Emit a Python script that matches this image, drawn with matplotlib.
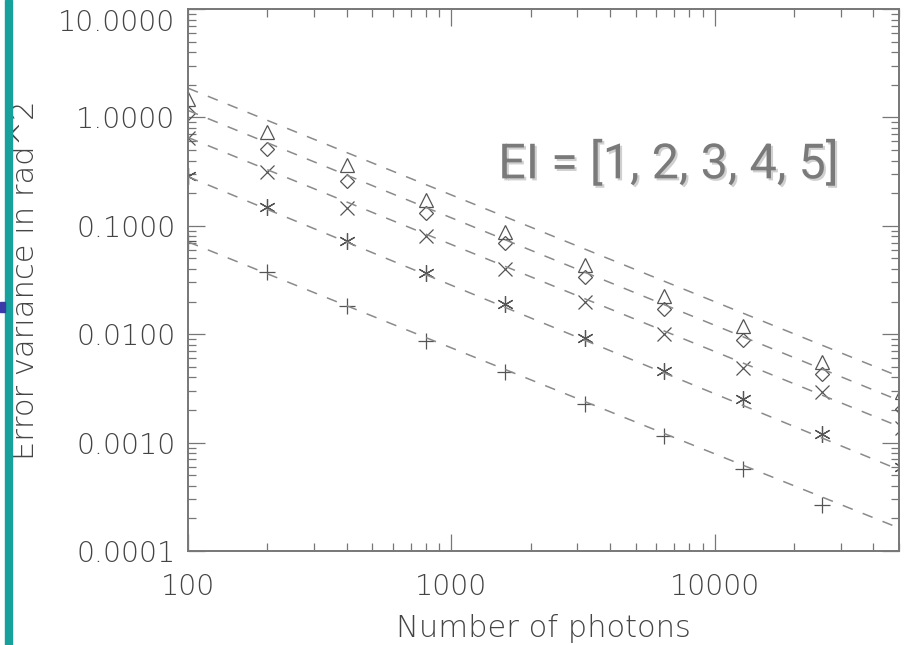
import numpy as np
import matplotlib
matplotlib.use('Agg')
import matplotlib.pyplot as plt
import matplotlib.patheffects as pe
from matplotlib.patches import Rectangle
from matplotlib.ticker import FixedLocator, LogLocator, NullFormatter

# number of photons
photons = [100, 200, 400, 800, 1600, 3200, 6400, 12800, 25600, 51200]

# error variance per EI value
ei1 = [0.0726, 0.0375, 0.0182, 0.0086, 0.00445, 0.00225, 0.00114, 0.000575, 0.000267, np.nan]
ei2 = [0.29, 0.150, 0.0726, 0.0367, 0.019, 0.0092, 0.00454, 0.00255, 0.00121, 0.0006]
ei3 = [0.64, 0.316, 0.147, 0.0807, 0.040, 0.0198, 0.0100, 0.00484, 0.0029, 0.00135]
ei4 = [1.09, 0.506, 0.261, 0.132, 0.0697, 0.0337, 0.017, 0.0088, 0.00427, 0.00202]
ei5 = [1.47, 0.726, 0.36, 0.174, 0.088, 0.0435, 0.0225, 0.0119, 0.0055, 0.0029]

# dashed fit lines, values at both ends of the x range
fit_x = [100, 50000]
fit_lo = [0.0711, 0.284, 0.653, 1.16, 1.86]
fit_hi = [0.000163, 0.000562, 0.00141, 0.00245, 0.00408]

yticks = [0.0001, 0.001, 0.01, 0.1, 1.0, 10.0]
ylabels = ['0.0001', '0.0010', '0.0100', '0.1000', '1.0000', '10.0000']
xticks = [100, 1000, 10000]
xlabels = ['100', '1000', '10000']

W, H = 906, 645
fig = plt.figure(figsize=(W/100, H/100), dpi=100, facecolor='w')
ax = fig.add_axes([188/W, 1-551/H, (899-188)/W, (551-9)/H])

ink = '#555555'
series = [(ei1, '+', 11), (ei2, (6, 2, 0), 12), (ei3, 'x', 10), (ei4, 'D', 7), (ei5, '^', 10)]
for vals, m, ms in series:
    ax.plot(photons, vals, linestyle='none', marker=m, markersize=ms,
            markerfacecolor='none', markeredgecolor=ink, markeredgewidth=0.9)

for lo, hi in zip(fit_lo, fit_hi):
    ax.plot(fit_x, [lo, hi], linestyle=(0, (7, 7)), color='#8a8a8a', linewidth=1.1)

ax.set_xscale('log')
ax.set_yscale('log')
ax.set_xlim(100, 50000)
ax.set_ylim(0.0001, 10)

ax.xaxis.set_major_locator(FixedLocator(xticks))
ax.set_xticklabels(xlabels)
ax.yaxis.set_major_locator(FixedLocator(yticks))
ax.set_yticklabels(ylabels)
ax.xaxis.set_minor_locator(LogLocator(base=10, subs=np.arange(2, 10), numticks=20))
ax.yaxis.set_minor_locator(LogLocator(base=10, subs=np.arange(2, 10), numticks=20))
ax.xaxis.set_minor_formatter(NullFormatter())
ax.yaxis.set_minor_formatter(NullFormatter())

ax.tick_params(which='both', direction='in', top=True, right=True, colors='#777777',
               labelcolor='#444444', labelsize=20.5, width=0.9)
ax.tick_params(which='major', length=12)
ax.tick_params(which='minor', length=6)
ax.tick_params(axis='x', which='major', pad=16)
ax.tick_params(axis='y', which='major', pad=9)
for lab in ax.get_xticklabels() + ax.get_yticklabels():
    lab.set_fontweight('light')
# top label sits just under the upper edge, as in the original
ax.get_yticklabels()[-1].set_verticalalignment('top')
for s in ax.spines.values():
    s.set_color('#777777')
    s.set_linewidth(1.4)

ax.set_xlabel('Number of photons', fontsize=22, color='#444444', fontweight='light', labelpad=9)
ax.set_ylabel('Error variance in rad^2', fontsize=22, color='#444444', fontweight='light', labelpad=13)

fig.text(668/W, 1-165/H, 'EI = [1, 2, 3, 4, 5]', family='Roboto', fontsize=35,
         color='#7a7a7a', ha='center', va='center',
         path_effects=[pe.withSimplePatchShadow(offset=(1.5, -1.5), shadow_rgbFace='#d0d0d0', alpha=1)])

# slide decorations on the left edge
fig.patches.append(Rectangle((5/W, 0), 7/W, 1, transform=fig.transFigure, color='#17a09c', zorder=5))
fig.patches.append(Rectangle((0, 1-312/H), 5/W, 10/H, transform=fig.transFigure, color='#3a3aa8', zorder=5))

fig.savefig('out.png', dpi=100)
